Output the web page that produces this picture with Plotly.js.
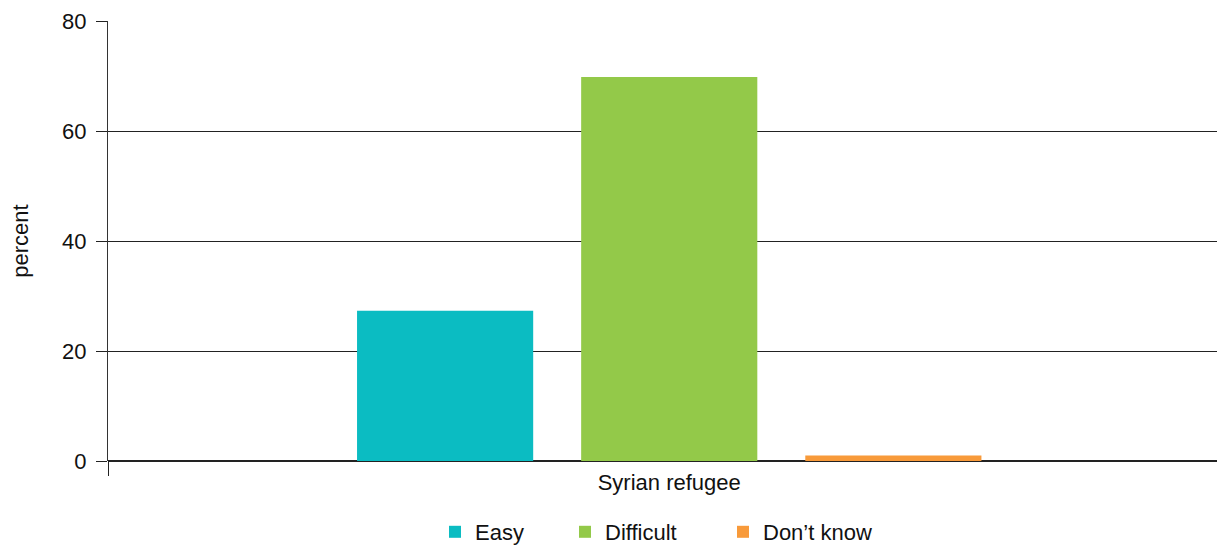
<!DOCTYPE html>
<html>
<head>
<meta charset="utf-8">
<script src="https://cdn.plot.ly/plotly-3.0.1.min.js"></script>
<style>html,body{margin:0;padding:0;background:#fff;}#chart{width:1217px;height:547px;}</style>
</head>
<body>
<div id="chart"></div>
<script>
const categories = ["Syrian refugee"];
const seriesNames = ["Easy", "Difficult", "Don\u2019t know"];
const easyValues = [27.3];
const difficultValues = [69.8];
const dontKnowValues = [1.0];
const yTickValues = [0, 20, 40, 60, 80];
const yTickLabels = ["0", "20", "40", "60", "80"];

const colors = ["#0bbcc2", "#93c949", "#f89a3a"];
const font = "Liberation Sans, Arial, Helvetica, sans-serif";
const fs = 22;
const legendIds = ["legend", "legend2", "legend3"];
const legendX = [435, 565, 723];

const data = [easyValues, difficultValues, dontKnowValues].map((vals, i) => ({
  type: "bar",
  name: seriesNames[i],
  x: categories,
  y: vals,
  legend: legendIds[i],
  marker: {color: colors[i], line: {width: 0}},
  hoverinfo: "skip"
}));

const layout = {
  width: 1217, height: 547,
  margin: {l: 108, r: 0, t: 21, b: 86, pad: 0},
  paper_bgcolor: "#fff", plot_bgcolor: "#fff",
  barmode: "group",
  bargap: 0.401,
  bargroupgap: 0.214,
  font: {family: font, size: fs, color: "#111"},
  showlegend: true,
  xaxis: {
    type: "category",
    range: [-0.5, 0.488],
    automargin: false,
    showgrid: false,
    showline: false,
    zeroline: false,
    tickson: "boundaries",
    ticks: "outside", ticklen: 14, tickwidth: 1, tickcolor: "#222",
    ticklabelstandoff: 6,
    tickfont: {family: font, size: fs, color: "#111"},
    fixedrange: true
  },
  yaxis: {
    range: [0, 80],
    automargin: false,
    tickvals: yTickValues,
    ticktext: yTickLabels,
    showgrid: true, gridcolor: "#222", gridwidth: 1,
    zeroline: true, zerolinecolor: "#222", zerolinewidth: 1.5,
    showline: true, linecolor: "#333", linewidth: 1,
    ticks: "outside", ticklen: 11, tickwidth: 1, tickcolor: "#222",
    ticklabelstandoff: 5,
    tickfont: {family: font, size: fs, color: "#111"},
    title: {text: "percent", font: {family: font, size: fs, color: "#111"}, standoff: 27},
    fixedrange: true
  }
};

legendIds.forEach((id, i) => {
  layout[id] = {
    orientation: "h",
    xref: "container", x: legendX[i] / 1217, xanchor: "left",
    yref: "container", y: 15 / 547, yanchor: "middle",
    font: {family: font, size: fs, color: "#111"},
    bgcolor: "rgba(0,0,0,0)"
  };
});

Plotly.newPlot("chart", data, layout, {displayModeBar: false, staticPlot: true});
</script>
</body>
</html>
